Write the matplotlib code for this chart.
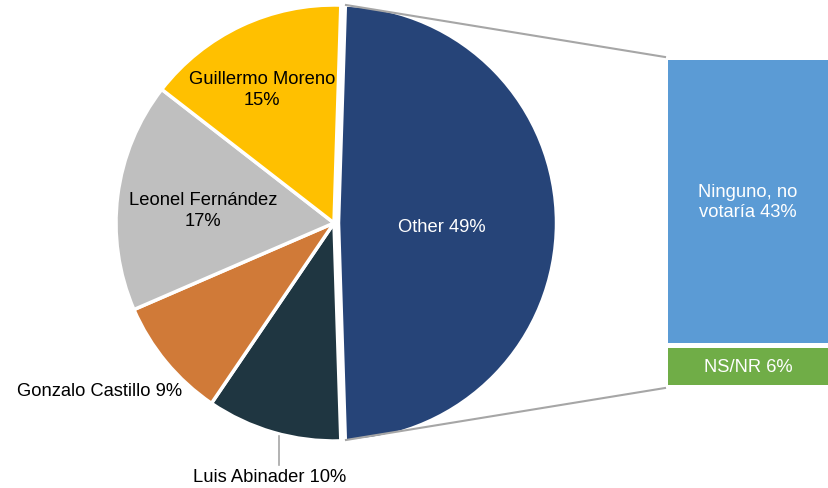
import numpy as np
import matplotlib.pyplot as plt

plt.rcParams['font.family'] = ['Liberation Sans', 'DejaVu Sans']

# pie data (clockwise, "Other" first)
pie_labels = ['Other', 'Luis Abinader', 'Gonzalo Castillo', 'Leonel Fernández', 'Guillermo Moreno']
pie_values = [49, 10, 9, 17, 15]
pie_colors = ['#264478', '#1F3641', '#D07A38', '#BFBFBF', '#FFC000']

# bar breakdown of "Other"
bar_labels = ['Ninguno, no\nvotaría', 'NS/NR']
bar_values = [43, 6]
bar_colors = ['#5B9BD5', '#70AD47']

fs = 13.2

fig = plt.figure(figsize=(8.29, 4.88), dpi=100)
ax = fig.add_axes([0, 0, 1, 1])

cx, cy, r = 334, 223, 218
start = pie_values[0] / 100 * 180
# explode is in data units here (pixels), not a fraction of the radius
wedges, _ = ax.pie(pie_values, colors=pie_colors, startangle=start, counterclock=False,
                   center=(cx, cy), radius=r, explode=[4.5, 0, 0, 0, 0],
                   wedgeprops=dict(edgecolor='white', linewidth=2.5), frame=True)
# y axis is flipped (pixel coords), so mirror the wedges
for w in wedges:
    th1, th2 = w.theta1, w.theta2
    w.set_theta1(-th2)
    w.set_theta2(-th1)
    w.set_center((w.center[0], 2 * cy - w.center[1]))
ax.set_xlim(0, 829)
ax.set_ylim(488, 0)
ax.set_aspect('equal')
ax.axis('off')

# labels
ax.text(442, 228, 'Other 49%', color='white', fontsize=fs, ha='center', va='center')
ax.text(262, 90, 'Guillermo Moreno\n15%', color='black', fontsize=fs, ha='center', va='center',
        linespacing=1.25)
ax.text(203, 211, 'Leonel Fernández\n17%', color='black', fontsize=fs, ha='center', va='center',
        linespacing=1.25)
ax.text(100, 392, 'Gonzalo Castillo 9%', color='black', fontsize=fs, ha='center', va='center')
ax.text(270, 478, 'Luis Abinader 10%', color='black', fontsize=fs, ha='center', va='center')
ax.plot([279, 279], [436, 465], color='#A6A6A6', lw=1.2)

# bar of pie
scale = 325 / sum(bar_values)
bx, bw, top, gap = 668, 160, 60, 5
y = top
for lab, v, c in zip(bar_labels, bar_values, bar_colors):
    h = v * scale
    ax.bar(bx + bw / 2, h - gap / 2, width=bw, bottom=y, color=c, edgecolor='none')
    ax.text(bx + bw / 2, y + h / 2, f'{lab} {v}%', color='white', fontsize=fs,
            ha='center', va='center', linespacing=1.25)
    y += h + gap / 2

# connector lines
ax.plot([346, 665], [5, 57], color='#A6A6A6', lw=1.5)
ax.plot([346, 665], [440, 388], color='#A6A6A6', lw=1.5)

fig.savefig('out.png', dpi=100)
